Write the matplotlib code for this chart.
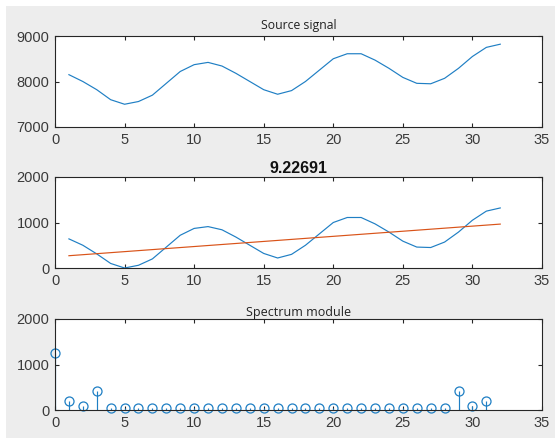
import numpy as np
import matplotlib
matplotlib.use("Agg")
import matplotlib.pyplot as plt
from matplotlib.patches import Rectangle

# Sample index
t = list(range(1, 33))

# Raw signal
source = [8150, 8000, 7820, 7600, 7500, 7560, 7700, 7960, 8220, 8370, 8420, 8340,
          8180, 8000, 7820, 7720, 7800, 8000, 8250, 8500, 8610, 8610, 8470, 8290,
          8090, 7960, 7950, 8070, 8290, 8550, 8750, 8820]

# Offset-removed signal and its linear trend
shifted = [640, 500, 310, 100, 0, 60, 200, 460, 720, 870, 910, 840,
           680, 500, 320, 220, 300, 500, 750, 1000, 1110, 1110, 970, 790,
           590, 460, 450, 570, 790, 1050, 1250, 1320]
trend_x = [1, 32]
trend_y = [270, 965]
trend_title = "9.22691"

# Spectrum magnitude
freq = list(range(0, 32))
spectrum = [1250, 190, 90, 420] + [40] * 25 + [420, 90, 190]

blue = "#1f7fc4"
orange = "#D95319"
edge = "#262626"
tick_col = "#3a3a3a"

plt.rcParams["font.family"] = ["Liberation Sans", "DejaVu Sans"]

fig = plt.figure(figsize=(5.55, 4.38), dpi=100, facecolor="white")
fig.patches.append(Rectangle((6 / 555, 0), 1, 1 - 6 / 438, transform=fig.transFigure,
                             facecolor="#ededed", edgecolor="none", zorder=-10))

left, width, height = 55 / 555, 487 / 555, 91 / 438
bottoms = [1 - 127 / 438, 1 - 268 / 438, 1 - 410 / 438]
axes = [fig.add_axes([left, b, width, height]) for b in bottoms]


def style(ax, ylim, yticks):
    ax.set_xlim(0, 35)
    ax.set_xticks(range(0, 36, 5))
    ax.set_ylim(*ylim)
    ax.set_yticks(yticks)
    ax.tick_params(direction="in", length=3, width=0.8, top=True, right=True,
                   colors=edge, labelcolor=tick_col, labelsize=10.5, pad=4)
    for s in ax.spines.values():
        s.set_color(edge)
        s.set_linewidth(0.8)
    ax.set_facecolor("white")


ax1, ax2, ax3 = axes

ax1.plot(t, source, color=blue, lw=0.85)
style(ax1, (7000, 9000), [7000, 8000, 9000])
ax1.set_title("Source signal", fontsize=8.8, color="#222222", pad=5,
              family=["Open Sans", "DejaVu Sans"])

ax2.plot(t, shifted, color=blue, lw=0.85)
ax2.plot(trend_x, trend_y, color=orange, lw=0.85)
style(ax2, (0, 2000), [0, 1000, 2000])
ax2.set_title(trend_title, fontsize=11.5, fontweight="bold", color="#111111", pad=3)

ml, sl, bl = ax3.stem(freq, spectrum, basefmt=" ")
plt.setp(sl, color=blue, lw=0.85)
plt.setp(ml, marker="o", markersize=6.5, markerfacecolor="none",
         markeredgecolor=blue, markeredgewidth=0.9, clip_on=False)
style(ax3, (0, 2000), [0, 1000, 2000])
ax3.set_title("Spectrum module", fontsize=9, color="#222222", pad=2,
              family=["Open Sans", "DejaVu Sans"])

fig.savefig("out.png", dpi=100, facecolor=fig.get_facecolor())
